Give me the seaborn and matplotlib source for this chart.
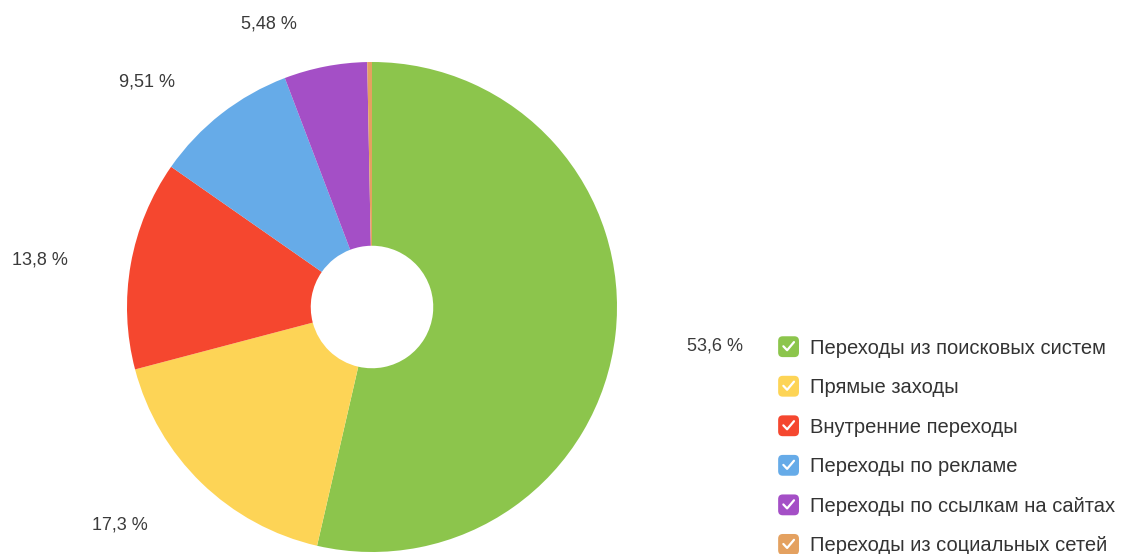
import matplotlib
matplotlib.use("Agg")
import matplotlib.pyplot as plt
from matplotlib.legend_handler import HandlerBase
from matplotlib.patches import FancyBboxPatch, Patch
from matplotlib.lines import Line2D
import numpy as np
import seaborn as sns

# Traffic sources, share of visits (%)
categories = [
    "Переходы из поисковых систем",
    "Прямые заходы",
    "Внутренние переходы",
    "Переходы по рекламе",
    "Переходы по ссылкам на сайтах",
    "Переходы из социальных сетей",
]
shares = [53.6, 17.3, 13.8, 9.51, 5.48, 0.31]
share_labels = ["53,6 %", "17,3 %", "13,8 %", "9,51 %", "5,48 %", ""]
colors = ["#8cc54c", "#fdd456", "#f5472f", "#66abe8", "#a44fc6", "#e4a160"]

# label placement: radial distance (in radii) and angular nudge (deg, clockwise)
label_dist = [1.41, 1.36, 1.37, 1.30, 1.23, 1.3]
label_nudge = [0, 5, -2, -7, -9, 0]

sns.set_theme(style="white")
plt.rcParams["font.family"] = ["Liberation Sans", "DejaVu Sans"]

W, H = 1126, 554
fig = plt.figure(figsize=(W / 100, H / 100), dpi=100)
fig.patch.set_facecolor("white")

# pie axes: centre (372, 307) px, radius 245 px, limits +-1.5
cx, cy, r, lim = 372, 307, 245, 1.5
half = r * lim
ax = fig.add_axes([(cx - half) / W, (H - cy - half) / H, 2 * half / W, 2 * half / H])

wedges, _ = ax.pie(
    shares,
    colors=colors,
    startangle=90,
    counterclock=False,
    radius=1.0,
    wedgeprops=dict(width=0.75, linewidth=0),
)
ax.set_xlim(-lim, lim)
ax.set_ylim(-lim, lim)
ax.set_aspect("equal")
ax.axis("off")

for w, lab, d, nudge in zip(wedges, share_labels, label_dist, label_nudge):
    if not lab:
        continue
    mid = 0.5 * (w.theta1 + w.theta2) - nudge
    a = np.deg2rad(mid)
    ax.text(d * np.cos(a), d * np.sin(a), lab, ha="center", va="center",
            fontsize=13, color="#3a3a3a", clip_on=False)


class CheckBoxHandler(HandlerBase):
    def create_artists(self, legend, orig_handle, xdescent, ydescent,
                       width, height, fontsize, trans):
        s = height * 1.2
        x0 = (width - s) / 2 - xdescent
        y0 = (height - s) / 2 - ydescent
        box = FancyBboxPatch((x0, y0), s, s,
                             boxstyle="round,pad=0,rounding_size=%f" % (s * 0.22),
                             facecolor=orig_handle.get_facecolor(),
                             edgecolor="none", transform=trans)
        check = Line2D([x0 + 0.25 * s, x0 + 0.43 * s, x0 + 0.76 * s],
                       [y0 + 0.52 * s, y0 + 0.33 * s, y0 + 0.72 * s],
                       color="white", lw=1.6, solid_capstyle="round",
                       solid_joinstyle="round", transform=trans)
        return [box, check]


handles = [Patch(facecolor=c, label=n) for c, n in zip(colors, categories)]
fig.legend(
    handles=handles,
    loc="upper left",
    bbox_to_anchor=(779 / W, 1 - 338 / H),
    frameon=False,
    fontsize=14.5,
    handler_map={Patch: CheckBoxHandler()},
    handlelength=0.95,
    handleheight=0.95,
    handletextpad=0.6,
    labelspacing=0.99,
    borderpad=0,
    borderaxespad=0,
    labelcolor="#333333",
)

fig.savefig("out.png", dpi=100, facecolor="white")
